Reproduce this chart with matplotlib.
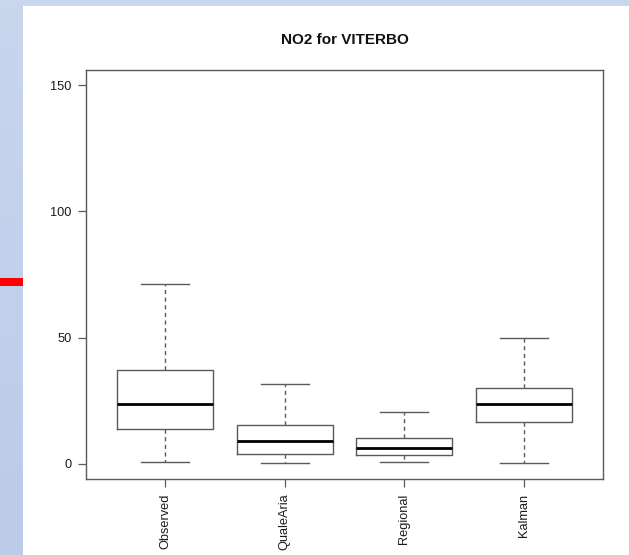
import numpy as np
import matplotlib
matplotlib.use("Agg")
import matplotlib.pyplot as plt
from matplotlib.patches import Rectangle

plt.rcParams['font.family'] = ['Liberation Sans', 'DejaVu Sans']

# Box statistics per source (NO2)
categories = ["Observed", "QualeAria", "Regional", "Kalman"]
whisker_low = [0.8, 0.5, 0.8, 0.3]
q1 = [13.8, 4.1, 3.7, 16.7]
median = [23.9, 9.0, 6.2, 23.8]
q3 = [37.0, 15.2, 10.3, 29.9]
whisker_high = [71.1, 31.7, 20.4, 50.0]
y_ticks = [0, 50, 100, 150]

W, H = 629, 555
fig = plt.figure(figsize=(W / 100, H / 100), dpi=100)
fig.patch.set_facecolor("white")

# slide-style background: light blue strips on the left and top, red marker
bg = fig.add_axes([0, 0, 1, 1], zorder=-10)
bg.set_xlim(0, W)
bg.set_ylim(H, 0)
bg.axis("off")
grad = np.linspace(0, 1, 256).reshape(-1, 1)
top_c = np.array([0xc8, 0xd6, 0xee]) / 255
bot_c = np.array([0xbb, 0xcb, 0xe8]) / 255
img = top_c[None, None, :] * (1 - grad[:, :, None]) + bot_c[None, None, :] * grad[:, :, None]
bg.imshow(img, extent=[0, 23, H, 0], aspect="auto", interpolation="bilinear")
bg.add_patch(Rectangle((0, 0), W, 6, color="#c8d6ee", lw=0))
bg.add_patch(Rectangle((0, 278), 23, 8, color="#ff0000", lw=0))

ax = fig.add_axes([86 / W, (H - 479) / H, (603 - 86) / W, (479 - 70) / H])
ax.set_facecolor("none")

stats = []
for i, name in enumerate(categories):
    stats.append(dict(label=name, whislo=whisker_low[i], q1=q1[i], med=median[i],
                      q3=q3[i], whishi=whisker_high[i], fliers=[]))

edge = "#5a5a5a"
ax.bxp(stats, positions=np.arange(1, len(categories) + 1), widths=0.8,
       showfliers=False, patch_artist=False,
       boxprops=dict(color=edge, lw=1.0),
       whiskerprops=dict(color=edge, lw=1.0, linestyle=(0, (3, 2.5))),
       capprops=dict(color=edge, lw=1.0),
       medianprops=dict(color="black", lw=2.0, solid_capstyle="butt"),
       capwidths=0.4)

ax.set_xlim(0.34, 4.66)
ax.set_ylim(-6, 156)
ax.set_yticks(y_ticks)
ax.set_yticklabels([str(v) for v in y_ticks])
ax.set_xticks(np.arange(1, len(categories) + 1))
ax.set_xticklabels(categories, rotation=90)

for s in ax.spines.values():
    s.set_color(edge)
    s.set_linewidth(1.0)
ax.tick_params(axis="both", colors=edge, labelcolor="#1a1a1a", labelsize=9.2,
               length=6, width=0.9, pad=4.5)

ax.set_title("NO2 for VITERBO", fontsize=11, fontweight="bold", pad=19, color="#111111")

fig.savefig("out.png", dpi=100)
